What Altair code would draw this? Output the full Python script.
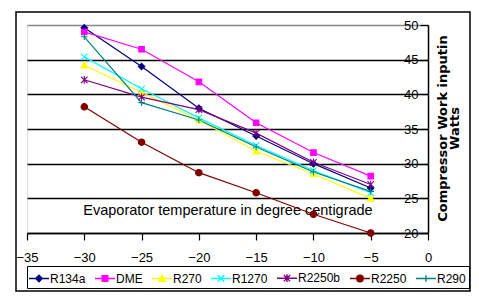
import altair as alt
import pandas as pd

temps = [-30, -25, -20, -15, -10, -5]
names = ["R134a", "DME", "R270", "R1270", "R2250b", "R2250", "R290"]
r134a = [49.6, 44.0, 38.0, 34.0, 30.0, 26.5]
dme = [49.0, 46.5, 41.8, 35.9, 31.6, 28.2]
r270 = [44.2, 40.3, 36.3, 31.8, 28.5, 25.0]
r1270 = [45.4, 40.8, 36.6, 32.6, 29.0, 25.8]
r2250b = [42.1, 39.6, 37.8, 34.4, 30.2, 27.0]
r2250 = [38.2, 33.1, 28.7, 25.8, 22.7, 20.0]
r290 = [48.3, 38.8, 36.3, 32.4, 28.8, 26.0]
series = [r134a, dme, r270, r1270, r2250b, r2250, r290]

colors = ["#000080", "#FF00FF", "#FFFF00", "#00FFFF", "#800080", "#800000", "#008080"]
marker_paths = [
    "M0,-1L1,0L0,1L-1,0Z",
    "M-0.85,-0.85H0.85V0.85H-0.85Z",
    "M0,-1L1,0.85H-1Z",
    "M-1,-1L1,1M-1,1L1,-1",
    "M-1,-1L1,1M-1,1L1,-1M0,-1.2V1.2",
    "M1,0A1,1,0,1,1,-1,0A1,1,0,1,1,1,0Z",
    "M-1,0H1M0,-1V1",
]
legend_paths = [
    "M-1.25,0H1.25M0,-0.4L0.4,0L0,0.4L-0.4,0Z",
    "M-1.25,0H1.25M-0.35,-0.35H0.35V0.35H-0.35Z",
    "M-1.25,0H1.25M0,-0.4L0.4,0.35H-0.4Z",
    "M-1.25,0H1.25M-0.4,-0.4L0.4,0.4M-0.4,0.4L0.4,-0.4",
    "M-1.25,0H1.25M-0.4,-0.4L0.4,0.4M-0.4,0.4L0.4,-0.4M0,-0.48V0.48",
    "M-1.25,0H1.25M0.4,0A0.4,0.4,0,1,1,-0.4,0A0.4,0.4,0,1,1,0.4,0Z",
    "M-1.25,0H1.25M0,-0.4V0.4",
]

rows = []
for n, vals in zip(names, series):
    for t, v in zip(temps, vals):
        rows.append({"series": n, "temp": t, "value": v})
df = pd.DataFrame(rows)

W, H = 401, 208
FONT = "Liberation Sans"

x_enc = alt.X(
    "temp:Q",
    scale=alt.Scale(domain=[-35, 0], nice=False),
    axis=alt.Axis(
        values=[-35, -30, -25, -20, -15, -10, -5, 0],
        title="Evaporator temperature in degree centigrade",
        titleY=-23,
        titleBaseline="middle",
        titleFont=FONT,
        titleFontSize=14.5,
        titleFontWeight="normal",
        titleColor="black",
        grid=False,
        domainColor="black",
        domainWidth=1.5,
        tickColor="black",
        tickSize=7,
        tickWidth=1.2,
        labelFont=FONT,
        labelFontSize=13,
        labelColor="black",
        labelPadding=11,
        labelFlush=False,
        labelOverlap=False,
    ),
)
y_enc = alt.Y(
    "value:Q",
    scale=alt.Scale(domain=[20, 50], nice=False),
    axis=alt.Axis(
        orient="left",
        offset=-W,
        values=[20, 25, 30, 35, 40, 45, 50],
        title=["Compressor Work inputin", "\u00a0" * 17 + "Watts"],
        titleAngle=270,
        titleX=14,
        titleY=103,
        titleAlign="center",
        titleBaseline="middle",
        titleFont="DejaVu Sans",
        titleFontSize=13,
        titleFontWeight="bold",
        titleLineHeight=12,
        titleColor="black",
        grid=True,
        gridColor={"condition": {"test": "datum.value === 50", "value": "#888888"}, "value": "black"},
        gridWidth=1.4,
        domainColor="black",
        domainWidth=1.5,
        tickColor="black",
        tickSize=8,
        tickWidth=1.2,
        labelFont=FONT,
        labelFontSize=13,
        labelColor="black",
        labelPadding=2,
    ),
)

frame = alt.Chart(pd.DataFrame({"a": [0]})).mark_rect(
    fillOpacity=0, stroke="black", strokeWidth=1.5
).encode(
    x=alt.value(-11), x2=alt.value(443), y=alt.value(-13), y2=alt.value(266)
)

lines = alt.Chart(df).mark_line(strokeWidth=1.2).encode(
    x=x_enc,
    y=y_enc,
    color=alt.Color("series:N", scale=alt.Scale(domain=names, range=colors), legend=None),
    order="temp:Q",
)

points = alt.Chart(df).mark_point(filled=True, size=42, strokeWidth=1.1, opacity=1).encode(
    x=x_enc,
    y=y_enc,
    fill=alt.Fill("series:N", scale=alt.Scale(domain=names, range=colors), legend=None),
    stroke=alt.Stroke("series:N", scale=alt.Scale(domain=names, range=colors), legend=None),
    shape=alt.Shape("series:N", scale=alt.Scale(domain=names, range=marker_paths), legend=None),
)

leg = alt.Legend(
    title=None,
    orient="none",
    legendX=0,
    legendY=241,
    direction="horizontal",
    symbolSize=256,
    symbolStrokeWidth=1.4,
    labelFont=FONT,
    labelFontSize=12,
    labelColor="black",
    labelOffset=2,
    columnPadding=6,
    padding=3,
    strokeColor="black",
    fillColor="white",
)
legend_layer = alt.Chart(df).transform_filter("false").mark_point(
    filled=True, opacity=1
).encode(
    x=x_enc,
    y=y_enc,
    fill=alt.Fill("series:N", scale=alt.Scale(domain=names, range=colors), legend=leg),
    stroke=alt.Stroke("series:N", scale=alt.Scale(domain=names, range=colors), legend=leg),
    shape=alt.Shape("series:N", scale=alt.Scale(domain=names, range=legend_paths), legend=leg),
)

chart = (
    alt.layer(frame, lines, points, legend_layer)
    .resolve_scale(fill="independent", stroke="independent", shape="independent")
    .properties(
        width=W,
        height=H,
        autosize=alt.AutoSizeParams(type="none"),
        padding={"left": 19, "top": 17, "right": 43, "bottom": 63},
    )
    .configure_view(stroke="#888888", strokeWidth=1.4)
    .configure(background="white")
)

chart.save("out.html", embed_options={"renderer": "svg", "actions": False})
